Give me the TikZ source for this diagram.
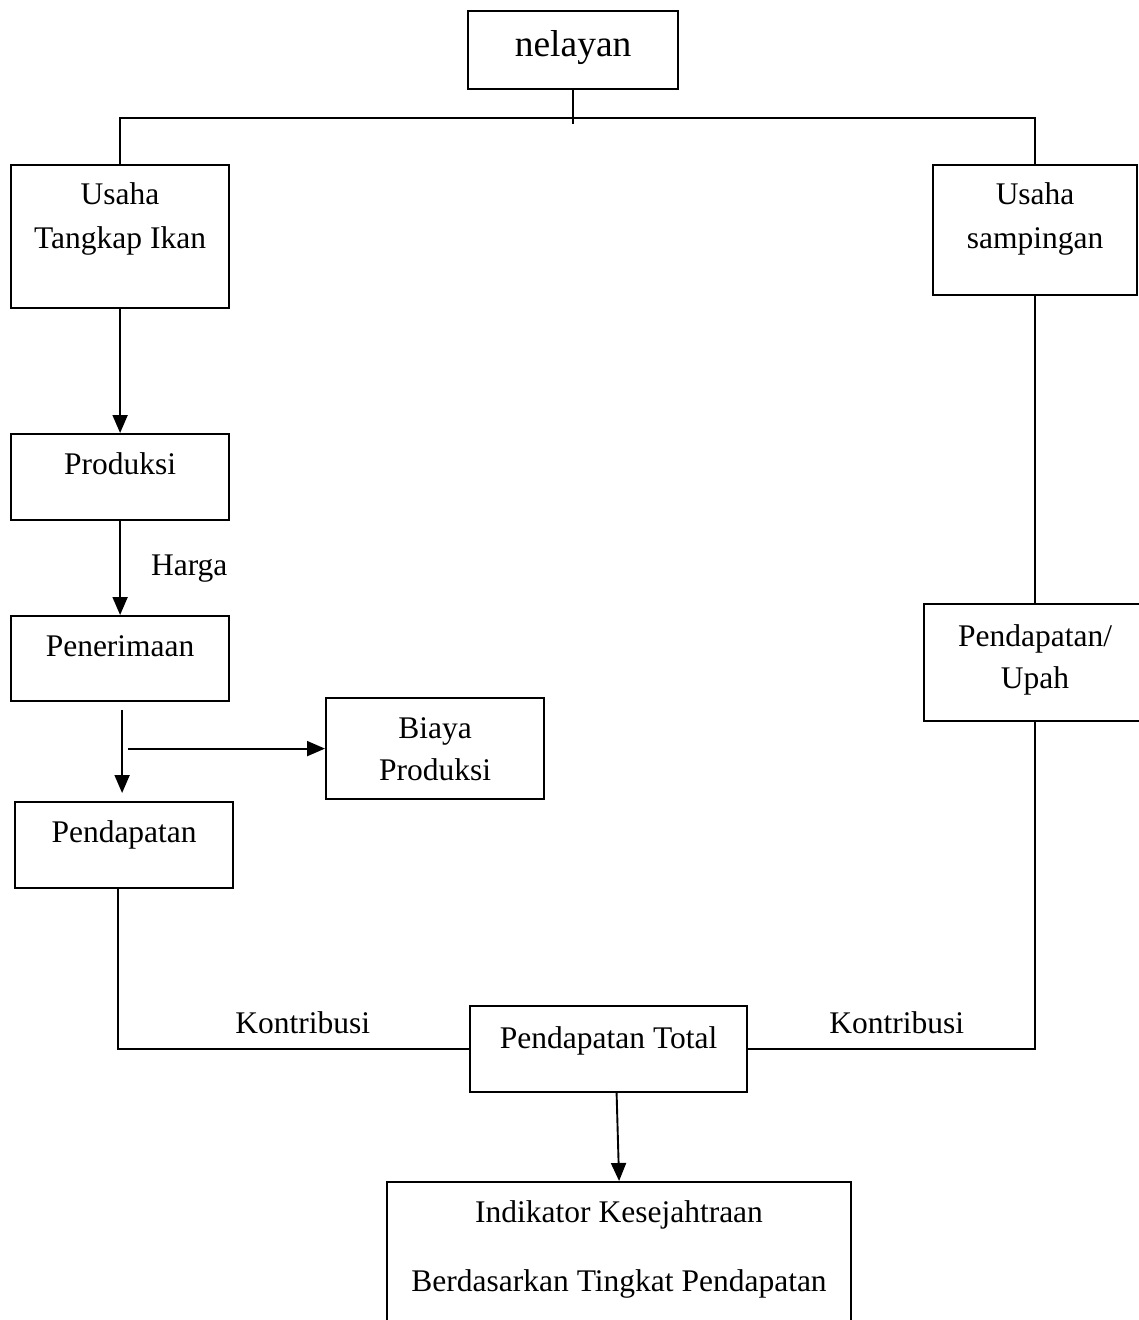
\documentclass[tikz,border=0pt]{standalone}
\usepackage{fontspec}
\setmainfont{Liberation Serif}
\usetikzlibrary{arrows.meta, positioning}
\newcommand{\boxfont}{\fontsize{31.5}{44}\selectfont}
\newcommand{\titlefont}{\fontsize{37.5}{44}\selectfont}

\begin{document}
\begin{tikzpicture}[x=1pt, y=-1pt, >={Triangle[length=18pt, width=15pt]},
    box/.style={draw, line width=2.2pt, inner sep=0pt, align=center, anchor=north west, font=\boxfont},
    link/.style={line width=1.9pt},
    lbl/.style={inner sep=0pt, font=\boxfont}]
    \useasboundingbox (0,0) rectangle (1138,1320);

    % Boxes
    \node[box, font=\titlefont, minimum width=210pt, text height=45pt, text depth=33pt] (nel) at (467,10) {nelayan};
    \node[box, minimum width=218pt, text height=83pt, text depth=60pt] (ut) at (10,164) {Usaha\\Tangkap Ikan};
    \node[box, minimum width=204pt, text height=83pt, text depth=47pt] (us) at (932,164) {Usaha\\sampingan};
    \node[box, minimum width=218pt, text height=40pt, text depth=46pt] (prod) at (10,433) {Produksi};
    \node[box, minimum width=218pt, text height=40pt, text depth=45pt] (pen) at (10,615) {Penerimaan};
    \node[box, minimum width=218pt, text height=82pt, text depth=19pt] (biaya) at (325,697) {Biaya\\[-2pt]Produksi};
    \node[box, minimum width=218pt, text height=40pt, text depth=46pt] (pdp) at (14,801) {Pendapatan};
    \node[box, minimum width=222pt, text height=84pt, text depth=33pt] (upah) at (923,603) {Pendapatan/\\[-2pt]Upah};
    \node[box, minimum width=277pt, text height=42pt, text depth=44pt] (tot) at (469,1005) {Pendapatan Total};
    \node[box, minimum width=464pt, text height=109pt, text depth=40pt] (ind) at (386,1181) {Indikator Kesejahtraan\\[25pt]Berdasarkan Tingkat Pendapatan};

    % Top split
    \coordinate (rail) at (0,118);
    \draw[link] (nel.south) -- ++(0,34);
    \draw[link] (ut.north) -- (ut.north |- rail) -| (us.north);

    % Left column
    \draw[link, ->] (ut.south) -- (prod.north);
    \draw[link, ->] (prod.south) -- node[lbl, right=30pt] (harga) {Harga} (pen.north);
    \coordinate (fork) at ([xshift=2pt, yshift=-8pt]pen.south);
    \draw[link, ->, shorten >=8pt] (fork) -- (fork |- pdp.north);
    \coordinate (tap) at (fork |- biaya.west);
    \draw[link, ->] ([xshift=6pt]tap) -- (biaya.west);

    % Right column
    \draw[link] (us.south) -- (upah.north);

    % Contributions to the total
    \draw[link] ([xshift=-6pt]pdp.south) |- node[lbl, pos=0.763, above=14pt] (kon-l) {Kontribusi} (tot.west);
    \draw[link] (tot.east) -| node[lbl, pos=0.259, above=14pt] (kon-r) {Kontribusi} (upah.south);
    \draw[link, ->] ([xshift=8pt]tot.south) -- (ind.north);
\end{tikzpicture}
\end{document}
